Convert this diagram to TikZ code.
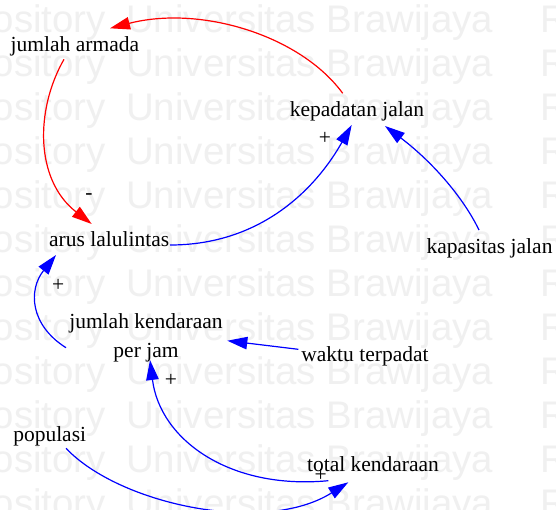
\documentclass[tikz,border=0pt]{standalone}
\usepackage{fontspec}
\setmainfont{Liberation Serif}
\newfontfamily\wmfont{Liberation Sans}
\usetikzlibrary{arrows.meta}
\definecolor{wmgray}{RGB}{240,240,240}
\definecolor{linkred}{RGB}{255,0,0}
\definecolor{linkblue}{RGB}{0,0,255}

\begin{document}
\begin{tikzpicture}[x=1pt,y=-1pt,
  var/.style={inner sep=0pt, anchor=base, font=\fontsize{21.5}{29}\selectfont},
  sign/.style={inner sep=0pt, font=\fontsize{21.5}{26}\selectfont},
  link/.style={line width=1.2pt, -{Triangle[length=20pt,width=12.5pt]}},
  neglink/.style={link, color=linkred},
  poslink/.style={link, color=linkblue},
  wm/.style={inner sep=0pt, text=wmgray, font=\wmfont\fontsize{38.4}{40}\selectfont}
]
\useasboundingbox (0,0) rectangle (556,509);
\clip (0,0) rectangle (556,509);
\fill[white] (0,0) rectangle (556,509);

% repository watermark rows
\foreach \k in {0,...,11} {
  \pgfmathsetmacro\yy{32+44*\k}
  \node[wm, anchor=base east] (wa\k) at (106,\yy) {Repository};
  \node[wm, anchor=base west] (wb\k) at (126,\yy) {Universitas Brawijaya};
  \node[wm, anchor=base west] (wc\k) at (540,\yy) {Repository};
}

% variables
\node[var] (ja) at (74.9,51) {jumlah armada};
\node[var] (kp) at (357,116) {kepadatan jalan};
\node[var] (al) at (109.2,246) {arus lalulintas};
\node[var] (kj) at (489.5,253.3) {kapasitas jalan};
\node[var, align=center] (jk) at (146,357) {jumlah kendaraan\\per jam};
\node[var] (wt) at (365,361.7) {waktu terpadat};
\node[var] (po) at (49.7,441.7) {populasi};
\node[var] (tk) at (373,471.7) {total kendaraan};

% causal links
\draw[neglink] ([shift={(-14.3,-22.7)}]kp.base) .. controls (300,35) and (200,5) .. ([shift={(35.1,-22.7)}]ja.base);
\draw[neglink] ([shift={(-10.9,8.3)}]ja.base) .. controls (35,110) and (35,180) .. ([shift={(-17.5,-22)}]al.base);
\draw[poslink] ([shift={(60.8,-1)}]al.base) .. controls (260,245) and (315,190) .. ([shift={(-5.3,9)}]kp.base);
\draw[poslink] ([shift={(-10.5,-23.3)}]kj.base) .. controls (462,195) and (430,160) .. ([shift={(28,10)}]kp.base);
\draw[poslink] ([shift={(-80,-9.3)}]jk.base) .. controls (30,325) and (28,290) .. ([shift={(-53.2,9)}]al.base);
\draw[poslink] ([shift={(-66.7,-12.4)}]wt.base) -- ([shift={(81.3,-16.3)}]jk.base);
\draw[poslink] ([shift={(-44.7,9)}]tk.base) .. controls (230,490) and (160,440) .. ([shift={(4,3)}]jk.base);
\draw[poslink] ([shift={(16.3,6.6)}]po.base) .. controls (120,505) and (265,535) .. ([shift={(-24.7,10.6)}]tk.base);

% link polarities
\node[sign] (s1) at (89,197) {-};
\node[sign] (s2) at (325,138.3) {+};
\node[sign] (s3) at (58.3,285) {+};
\node[sign] (s4) at (171,380) {+};
\node[sign] (s5) at (320.7,475) {+};
\end{tikzpicture}
\end{document}
